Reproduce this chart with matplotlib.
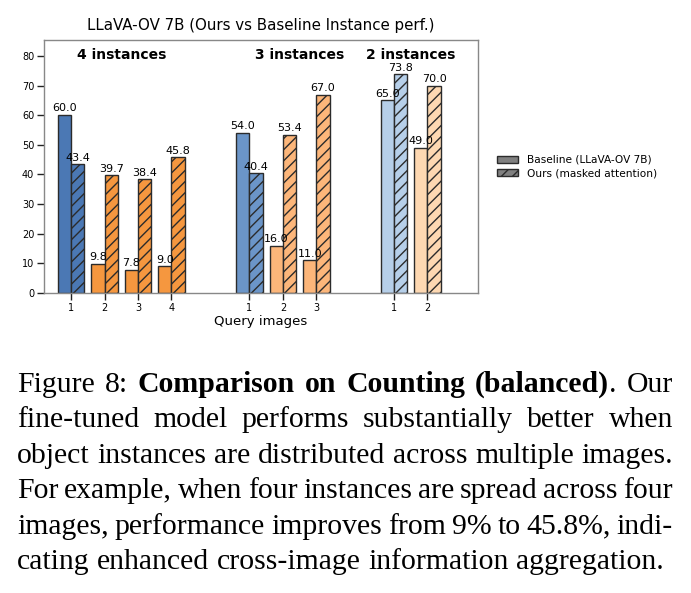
import matplotlib
matplotlib.use("Agg")
import matplotlib.pyplot as plt
from matplotlib.patches import Patch

# ---------------- data ----------------
group_titles = ["4 instances", "3 instances", "2 instances"]
query_ticks = [["1", "2", "3", "4"], ["1", "2", "3"], ["1", "2"]]
baseline_vals = [[60.0, 9.8, 7.8, 9.0], [54.0, 16.0, 11.0], [65.0, 49.0]]
ours_vals = [[43.4, 39.7, 38.4, 45.8], [40.4, 53.4, 67.0], [73.8, 70.0]]
group_starts = [0.0, 5.33, 9.65]
blue_colors = ["#4b78b4", "#6b95c8", "#b6cfe9"]
orange_colors = ["#f5973f", "#fcb67a", "#fdd8b2"]
title_text = "LLaVA-OV 7B (Ours vs Baseline Instance perf.)"
xlabel_text = "Query images"
legend_labels = ["Baseline (LLaVA-OV 7B)", "Ours (masked attention)"]

caption_lines = [
    [[("Figure", False)], [("8:", False)], [("Comparison", True)], [("on", True)],
     [("Counting", True)], [("(balanced)", True), (".", False)], [("Our", False)]],
    "fine-tuned model performs substantially better when",
    "object instances are distributed across multiple images.",
    "For example, when four instances are spread across four",
    "images, performance improves from 9% to 45.8%, indi-",
    "cating enhanced cross-image information aggregation.",
]

# ---------------- figure ----------------
W, H = 691, 593
fig = plt.figure(figsize=(W / 100, H / 100), dpi=100)
ax = fig.add_axes([44 / W, 1 - 293 / H, (478 - 44) / W, (293 - 40) / H])

bw = 0.4
edge = "#2b2b2b"
xt, xtl = [], []
for g in range(3):
    for i, (b, o) in enumerate(zip(baseline_vals[g], ours_vals[g])):
        x = group_starts[g] + i
        col = blue_colors[g] if i == 0 else orange_colors[g]
        ax.bar(x - bw / 2, b, bw, color=col, edgecolor=edge, linewidth=1.0)
        ax.text(x - bw / 2, b + 0.6, f"{b:.1f}", ha="center", va="bottom", fontsize=8)
        ax.bar(x + bw / 2, o, bw, color=col, edgecolor=edge, linewidth=1.0, hatch="///")
        ax.text(x + bw / 2, o + 0.5, f"{o:.1f}", ha="center", va="bottom", fontsize=8)
        xt.append(x)
        xtl.append(query_ticks[g][i])

title_x = [1.5, 6.83, 10.15]
for g in range(3):
    ax.text(title_x[g], 80.3, group_titles[g], ha="center", va="center",
            fontsize=10, fontweight="bold")

ax.set_xlim(-0.81, 12.16)
ax.set_ylim(0, 85.4)
ax.set_yticks(range(0, 81, 10))
ax.set_xticks(xt)
ax.set_xticklabels(xtl)
ax.tick_params(axis="both", labelsize=7, length=5, width=1, color="#222222", pad=2)
for s in ax.spines.values():
    s.set_color("#888888")
    s.set_linewidth(1.0)
ax.set_title(title_text, fontsize=10.8, pad=7)
ax.set_xlabel(xlabel_text, fontsize=9.5, labelpad=2)

handles = [Patch(facecolor="#808080", edgecolor=edge, linewidth=1.0),
           Patch(facecolor="#808080", edgecolor=edge, linewidth=1.0, hatch="///")]
ax.legend(handles, legend_labels, loc="center left", bbox_to_anchor=(1.022, 0.5),
          frameon=False, fontsize=7.6, handlelength=2.0, handletextpad=0.8,
          labelspacing=0.3)

# ---------------- caption (justified, Times-like) ----------------
renderer = fig.canvas.get_renderer()
serif = "Liberation Serif"
left_px, right_px = 17, 673
baseline0, line_gap = 392, 35.4


def tokens_of(line):
    if isinstance(line, str):
        return [[(w, False)] for w in line.split(" ")]
    return line


def measure(txt, bold, fs):
    t = fig.text(0, 0, txt, fontsize=fs, family=serif,
                 fontweight="bold" if bold else "normal")
    w = t.get_window_extent(renderer).width
    t.remove()
    return w


# choose font size from the natural (unjustified) last line width
fs = 20.0
last = caption_lines[-1]
nat = measure(last, False, fs)
fs = fs * 646.0 / nat
space_w = measure("a b", False, fs) - measure("ab", False, fs)

for li, line in enumerate(caption_lines):
    toks = tokens_of(line)
    widths = []
    for tok in toks:
        widths.append([measure(r, b, fs) for r, b in tok])
    total = sum(sum(w) for w in widths)
    if li < len(caption_lines) - 1:
        gap = (right_px - left_px - total) / (len(toks) - 1)
    else:
        gap = space_w
    x = left_px
    y = H - (baseline0 + li * line_gap)
    for tok, ws in zip(toks, widths):
        for (r, b), w in zip(tok, ws):
            fig.text(x / W, y / H, r, fontsize=fs, family=serif,
                     fontweight="bold" if b else "normal", va="baseline", ha="left")
            x += w
        x += gap

fig.savefig("out.png", dpi=100)
